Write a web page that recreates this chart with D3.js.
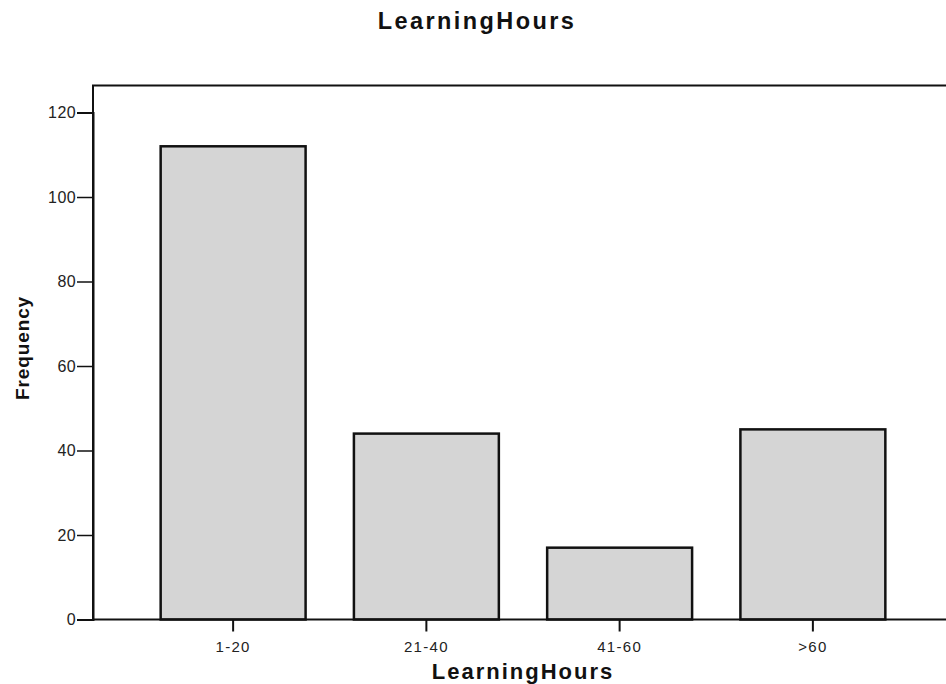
<!DOCTYPE html>
<html><head><meta charset="utf-8">
<script src="https://cdn.jsdelivr.net/npm/d3@7"></script>
<style>body{margin:0;background:#fff}svg{display:block}</style>
</head><body>
<script>
const categories = ["1-20","21-40","41-60",">60"];
const frequency = [112, 44, 17, 45];
const yTicks = [0,20,40,60,80,100,120];
const chartTitle = "LearningHours";
const xTitle = "LearningHours";
const yTitle = "Frequency";

const W = 946, H = 684;
const svg = d3.select("body").append("svg").attr("width", W).attr("height", H);
const mLeft = 93, mRight = 950, mTop = 85.5, mBottom = 619.5;
const font = "Liberation Sans, Arial, sans-serif";

const y = d3.scaleLinear().domain([0,120]).range([mBottom, 112.5]);
const x = d3.scaleBand().domain(categories).range([136.5, 909.5]).paddingInner(0.25).paddingOuter(0.125);

// frame
svg.append("path").attr("d", `M${mLeft},${mBottom} V${mTop} H${mRight}`)
  .attr("fill","none").attr("stroke","#111").attr("stroke-width",2);

// bars
svg.append("g").selectAll("rect").data(frequency).join("rect")
  .attr("x",(d,i)=>x(categories[i]))
  .attr("y",d=>y(d))
  .attr("width",x.bandwidth())
  .attr("height",d=>mBottom-y(d))
  .attr("fill","#d5d5d5")
  .attr("stroke","#111")
  .attr("stroke-width",2.5);

// y axis
const gy = svg.append("g").attr("transform",`translate(${mLeft},0)`)
  .call(d3.axisLeft(y).tickValues(yTicks).tickSize(16).tickPadding(1).tickFormat(d3.format("d")));
gy.select(".domain").attr("stroke","#111").attr("stroke-width",2);
gy.selectAll(".tick line").attr("stroke","#111").attr("stroke-width",1.5);
gy.selectAll(".tick text").attr("font-family",font).attr("font-size",16).attr("letter-spacing",0.4).attr("fill","#222");

// x axis
const gx = svg.append("g").attr("transform",`translate(0,${mBottom})`)
  .call(d3.axisBottom(x).tickSize(12).tickPadding(10));
gx.select(".domain").remove();
gx.append("line").attr("x1",mLeft).attr("x2",mRight).attr("stroke","#111").attr("stroke-width",2);
gx.selectAll(".tick line").attr("stroke","#111").attr("stroke-width",2);
gx.selectAll(".tick text").attr("font-family",font).attr("font-size",15).attr("letter-spacing",1.3).attr("fill","#222");

// titles
svg.append("text").attr("x",477).attr("y",29).attr("text-anchor","middle")
  .attr("font-family",font).attr("font-weight","bold")
  .attr("font-size",23.5).attr("letter-spacing",2.4).attr("fill","#111").text(chartTitle);

svg.append("text").attr("x",523).attr("y",679).attr("text-anchor","middle")
  .attr("font-family",font).attr("font-weight","bold")
  .attr("font-size",22).attr("letter-spacing",2).attr("fill","#111").text(xTitle);

svg.append("text").attr("transform","translate(29,348) rotate(-90)").attr("text-anchor","middle")
  .attr("font-family",font).attr("font-weight","bold")
  .attr("font-size",19).attr("letter-spacing",0.9).attr("fill","#111").text(yTitle);
</script>
</body></html>
